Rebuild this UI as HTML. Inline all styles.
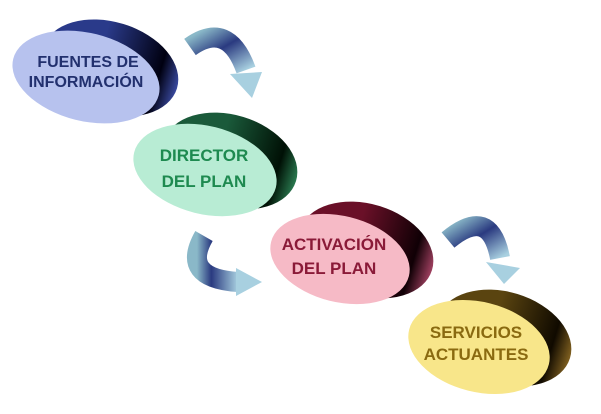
<!DOCTYPE html>
<html><head><meta charset="utf-8"><style>
html,body{margin:0;padding:0;background:#fff;}
svg{display:block}
text{font-family:"Liberation Sans",Arial,sans-serif;font-weight:bold;text-anchor:middle}
</style></head><body>
<svg width="601" height="414" viewBox="0 0 601 414" xmlns="http://www.w3.org/2000/svg">
<defs>
<linearGradient id="d1" x1="0" y1="0" x2="1" y2="0"><stop offset="0.4" stop-color="#2a3a8a"/><stop offset="0.85" stop-color="#000010"/><stop offset="1" stop-color="#3a4aa0"/></linearGradient>
<linearGradient id="d2" x1="0" y1="0" x2="1" y2="0"><stop offset="0.4" stop-color="#1a5a3a"/><stop offset="0.85" stop-color="#001005"/><stop offset="1" stop-color="#2a7a50"/></linearGradient>
<linearGradient id="d3" x1="0" y1="0" x2="1" y2="0"><stop offset="0.4" stop-color="#6a1028"/><stop offset="0.85" stop-color="#100005"/><stop offset="1" stop-color="#a04060"/></linearGradient>
<linearGradient id="d4" x1="0" y1="0" x2="1" y2="0"><stop offset="0.4" stop-color="#5a4410"/><stop offset="0.85" stop-color="#100a00"/><stop offset="1" stop-color="#806020"/></linearGradient>
<linearGradient id="ag" x1="0" y1="0" x2="1" y2="1"><stop offset="0" stop-color="#8ab8c8"/><stop offset="0.45" stop-color="#2a3a80"/><stop offset="1" stop-color="#a8d0e0"/></linearGradient>
<linearGradient id="ag2" x1="0" y1="0" x2="1" y2="0"><stop offset="0" stop-color="#8ab8c8"/><stop offset="0.35" stop-color="#2a3a80"/><stop offset="1" stop-color="#a8d0e0"/></linearGradient>
</defs>

<!-- node 1 -->
<ellipse cx="110" cy="68" rx="70" ry="46" transform="rotate(17 110 68)" fill="url(#d1)"/>
<ellipse cx="86" cy="77" rx="75" ry="44" transform="rotate(14 86 77)" fill="#b7c2ee"/>
<text x="88" y="67" font-size="16" fill="#22306e">FUENTES DE</text>
<text x="86" y="87" font-size="16" fill="#22306e">INFORMACIÓN</text>

<!-- node 2 -->
<ellipse cx="230" cy="161" rx="69" ry="46" transform="rotate(17 230 161)" fill="url(#d2)"/>
<ellipse cx="205" cy="170" rx="73" ry="44" transform="rotate(14 205 170)" fill="#b8ecd4"/>
<text x="204" y="161" font-size="17" fill="#1e8a50">DIRECTOR</text>
<text x="204" y="187" font-size="17" fill="#1e8a50">DEL PLAN</text>

<!-- node 3 -->
<ellipse cx="366" cy="250" rx="69" ry="46" transform="rotate(17 366 250)" fill="url(#d3)"/>
<ellipse cx="340" cy="259" rx="71" ry="43" transform="rotate(14 340 259)" fill="#f6bac6"/>
<text x="334" y="250" font-size="17" fill="#8a1a38">ACTIVACIÓN</text>
<text x="334" y="274" font-size="17" fill="#8a1a38">DEL PLAN</text>

<!-- node 4 -->
<ellipse cx="504" cy="338" rx="69" ry="46" transform="rotate(17 504 338)" fill="url(#d4)"/>
<ellipse cx="479" cy="347" rx="72" ry="45" transform="rotate(14 479 347)" fill="#f8e68a"/>
<text x="476" y="338" font-size="17" fill="#8a6a10">SERVICIOS</text>
<text x="476" y="360" font-size="17" fill="#8a6a10">ACTUANTES</text>

<!-- arrow 1 -->
<path d="M190 47 Q228 20 246 70" stroke="url(#ag)" stroke-width="20" fill="none"/>
<polygon points="230,74 262,72 252,98" fill="#a8d0e0"/>
<!-- arrow 2 -->
<path d="M204 236 Q180 278 238 282" stroke="url(#ag2)" stroke-width="20" fill="none"/>
<polygon points="236,268 262,282 236,296" fill="#a8d0e0"/>
<!-- arrow 3 -->
<path d="M448 240 Q490 205 500 258" stroke="url(#ag)" stroke-width="20" fill="none"/>
<polygon points="486,262 520,268 504,284" fill="#a8d0e0"/>
</svg>
</body></html>
